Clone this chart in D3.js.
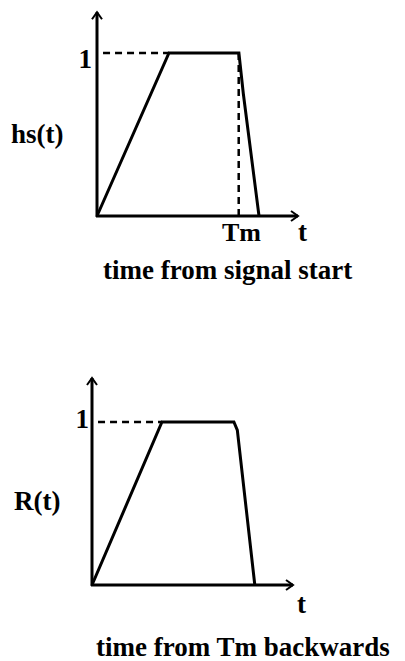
<!DOCTYPE html>
<html><head><meta charset="utf-8">
<script src="https://cdn.jsdelivr.net/npm/d3@7"></script>
<style>html,body{margin:0;padding:0;background:#fff;}svg{display:block;}</style>
</head><body>
<script>
// ---- data ----
const panelNames = ["hs(t)", "R(t)"];
const topT = [0, 0.358, 0.706, 0.728, 0.806];
const topH = [0, 1, 1, 0.75, 0];
const botT = [0, 0.348, 0.706, 0.723, 0.81];
const botH = [0, 1, 1, 0.95, 0];
const tmValue = 0.705;
const yTickLabels = ["1"];
const xAxisLabels = ["t", "t"];
const tmLabel = "Tm";
const captions = ["time from signal start", "time from Tm backwards"];

const W = 405, H = 661;
const svg = d3.select("body").append("svg").attr("width", W).attr("height", H);
const font = "'Liberation Serif','Times New Roman',serif";

const panels = [
  {name: panelNames[0], t: topT, h: topH, ox: 97, oy: 216, yTop: 1.25, tm: true,
   oneX: 92, oneY: 68, nameX: 11, nameY: 143, tX: 298, tY: 241, capX: 103, capY: 279, caption: captions[0], xl: xAxisLabels[0]},
  {name: panelNames[1], t: botT, h: botH, ox: 92, oy: 585, yTop: 1.27, tm: false,
   oneX: 89, oneY: 428, nameX: 14, nameY: 510, tX: 297, tY: 613, capX: 96, capY: 656, caption: captions[1], xl: xAxisLabels[1]}
];

panels.forEach(p => {
  const x = d3.scaleLinear().domain([0, 1]).range([p.ox, p.ox + 201]);
  const y = d3.scaleLinear().domain([0, 1]).range([p.oy, p.oy - 163]);
  const g = svg.append("g");
  const sw = 3;
  // axes
  g.append("line").attr("x1", x(0)).attr("y1", y(0) + 1).attr("x2", x(0)).attr("y2", y(p.yTop))
    .attr("stroke", "#000").attr("stroke-width", sw);
  g.append("line").attr("x1", x(0) - 1).attr("y1", y(0)).attr("x2", x(1)).attr("y2", y(0))
    .attr("stroke", "#000").attr("stroke-width", sw);
  // arrowheads
  g.append("path").attr("d", `M${x(0)-5},${y(p.yTop)+7} L${x(0)},${y(p.yTop)} L${x(0)+5},${y(p.yTop)+7}`)
    .attr("fill", "none").attr("stroke", "#000").attr("stroke-width", 2);
  g.append("path").attr("d", `M${x(1)-7},${y(0)-5} L${x(1)},${y(0)} L${x(1)-7},${y(0)+5}`)
    .attr("fill", "none").attr("stroke", "#000").attr("stroke-width", 2);
  // dashed reference at 1
  g.append("line").attr("x1", x(0.03)).attr("y1", y(1)).attr("x2", x(p.t[1])).attr("y2", y(1))
    .attr("stroke", "#000").attr("stroke-width", 2.5).attr("stroke-dasharray", "7,5");
  if (p.tm) {
    g.append("line").attr("x1", x(tmValue)).attr("y1", y(1)).attr("x2", x(tmValue)).attr("y2", y(0))
      .attr("stroke", "#000").attr("stroke-width", 2.5).attr("stroke-dasharray", "7,5");
  }
  // trace
  const line = d3.line().x(d => x(d[0])).y(d => y(d[1]));
  g.append("path").attr("d", line(d3.zip(p.t, p.h))).attr("fill", "none")
    .attr("stroke", "#000").attr("stroke-width", sw).attr("stroke-linejoin", "miter");
  // texts
  const txt = (s, tx, ty, anchor, fs) => g.append("text").attr("x", tx).attr("y", ty)
    .attr("text-anchor", anchor || "start").attr("font-family", font).attr("font-weight", "bold")
    .attr("font-size", fs || 27).attr("fill", "#000").text(s);
  txt(yTickLabels[0], p.oneX, p.oneY, "end");
  txt(p.name, p.nameX, p.nameY);
  txt(p.xl, p.tX, p.tY);
  if (p.tm) txt(tmLabel, 222, 241, "start", 26);
  txt(p.caption, p.capX, p.capY);
});
</script>
</body></html>
